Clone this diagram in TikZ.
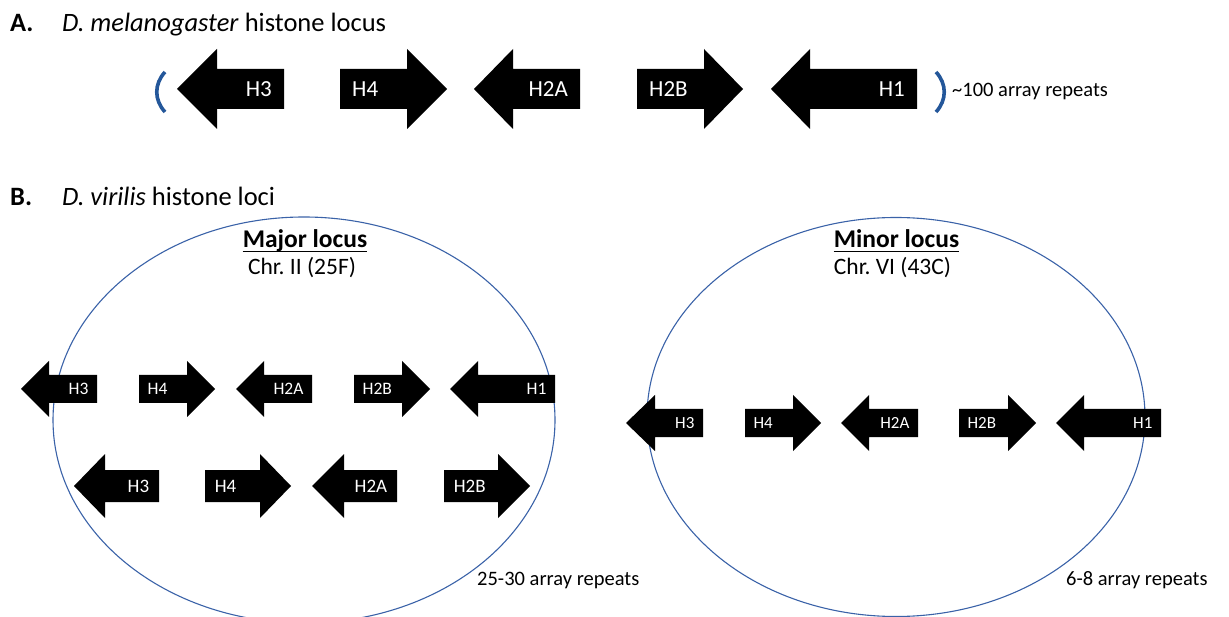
\documentclass[tikz,border=0pt]{standalone}
\usepackage{fontspec}
\setmainfont{Carlito}
\frenchspacing
\usetikzlibrary{shapes.geometric}
\definecolor{locusblue}{HTML}{3A62A8}
\definecolor{bracketblue}{HTML}{24579A}

% left-pointing gene: name, tip x, head base x, tail x, centre y, head half-height, label, font size
\newcommand\geneLeft[8]{%
  \path[genefill] (#2,#5) -- (#3,{#5-#6}) -- (#3,{#5-#6/2}) -- (#4,{#5-#6/2})
    -- (#4,{#5+#6/2}) -- (#3,{#5+#6/2}) -- (#3,{#5+#6}) -- cycle;
  \node[genelabel, font=\fontsize{#8}{#8}\selectfont, anchor=east] (#1) at ({#4-0.3*#6},#5) {#7};
}
% right-pointing gene: name, tail x, head base x, tip x, centre y, head half-height, label, font size
\newcommand\geneRight[8]{%
  \path[genefill] (#4,#5) -- (#3,{#5-#6}) -- (#3,{#5-#6/2}) -- (#2,{#5-#6/2})
    -- (#2,{#5+#6/2}) -- (#3,{#5+#6/2}) -- (#3,{#5+#6}) -- cycle;
  \node[genelabel, font=\fontsize{#8}{#8}\selectfont, anchor=west] (#1) at ({#2+0.3*#6},#5) {#7};
}

\tikzset{
  genefill/.style={fill=black},
  genelabel/.style={text=white, inner sep=0pt},
  heading/.style={anchor=base west, inner sep=0pt, font=\fontsize{26.5}{30}\selectfont},
  locustitle/.style={anchor=base, inner sep=0pt, font=\fontsize{25.5}{30}\selectfont\bfseries},
  underbar/.style={line width=1.5pt},
  chrlabel/.style={anchor=base, inner sep=0pt, font=\fontsize{23.5}{28}\selectfont},
  repeats/.style={anchor=base west, inner sep=0pt, font=\fontsize{20.5}{24}\selectfont},
  locus/.style={draw=locusblue, line width=1.1pt, ellipse, inner sep=0pt},
  bracket/.style={draw=bracketblue, line width=3.6pt},
}

\begin{document}
\begin{tikzpicture}[x=1pt, y=-1pt]
\useasboundingbox (0,0) rectangle (1229,617);
\clip (0,0) rectangle (1229,617);

% ---- A: D. melanogaster ----
\node[heading, font=\fontsize{26.5}{30}\selectfont\bfseries] (labA) at (10,32) {A.};
\node[heading] (titleA) at (62,32) {\textit{D. melanogaster} histone locus};

\geneLeft{mH3}{177}{217}{284}{89}{40}{H3}{23}
\geneRight{mH4}{340}{407}{447}{89}{40}{H4}{23}
\geneLeft{mH2A}{474}{513}{580}{89}{40}{H2A}{23}
\geneRight{mH2B}{637}{704}{743}{89}{40}{H2B}{23}
\geneLeft{mH1}{771}{810}{917}{89}{40}{H1}{23}

\draw[bracket] (165,72) .. controls (154,84) and (154,100) .. (165,112);
\draw[bracket] (936,72) .. controls (947,84) and (947,100) .. (936,112);
\node[repeats] (repA) at (952,96.7) {\textasciitilde100 array repeats};

% ---- B: D. virilis ----
\node[heading, font=\fontsize{26.5}{30}\selectfont\bfseries] (labB) at (10,206) {B.};
\node[heading] (titleB) at (62,206) {\textit{D. virilis} histone loci};

% major locus
\node[locus, minimum width=502pt, minimum height=406pt] (major) at (304,420) {};
\node[locustitle] (majorT) at (305,247.3) {Major locus};
\draw[underbar] ([yshift=-4.4pt]majorT.base west) -- ([yshift=-4.4pt]majorT.base east);
\node[chrlabel] (majorC) at (302,275) {Chr. II (25F)};

\geneLeft{aH3}{21}{49}{97}{389}{28}{H3}{17.5}
\geneRight{aH4}{139}{187}{215}{389}{28}{H4}{17.5}
\geneLeft{aH2A}{236}{264}{312}{389}{28}{H2A}{17.5}
\geneRight{aH2B}{354}{402}{430}{389}{28}{H2B}{17.5}
\geneLeft{aH1}{450}{478}{555}{389}{28}{H1}{17.5}

\geneLeft{bH3}{74}{105}{159}{486}{32}{H3}{19}
\geneRight{bH4}{205}{260}{291}{486}{32}{H4}{19}
\geneLeft{bH2A}{312}{344}{397}{486}{32}{H2A}{19}
\geneRight{bH2B}{444}{498}{530}{486}{32}{H2B}{19}

\node[repeats] (repMajor) at (477,585) {25-30 array repeats};

% minor locus
\node[locus, minimum width=498pt, minimum height=399pt] (minor) at (896,417) {};
\node[locustitle] (minorT) at (896.5,247.3) {Minor locus};
\draw[underbar] ([yshift=-4.4pt]minorT.base west) -- ([yshift=-4.4pt]minorT.base east);
\node[chrlabel] (minorC) at (892.5,275) {Chr. VI (43C)};

\geneLeft{cH3}{626}{655}{703}{423}{28}{H3}{17}
\geneRight{cH4}{745}{793}{821}{423}{28}{H4}{17}
\geneLeft{cH2A}{841}{869}{918}{423}{28}{H2A}{17}
\geneRight{cH2B}{959}{1008}{1036}{423}{28}{H2B}{17}
\geneLeft{cH1}{1056}{1084}{1161}{423}{28}{H1}{17}

\node[repeats] (repMinor) at (1066,585) {6-8 array repeats};
\end{tikzpicture}
\end{document}
